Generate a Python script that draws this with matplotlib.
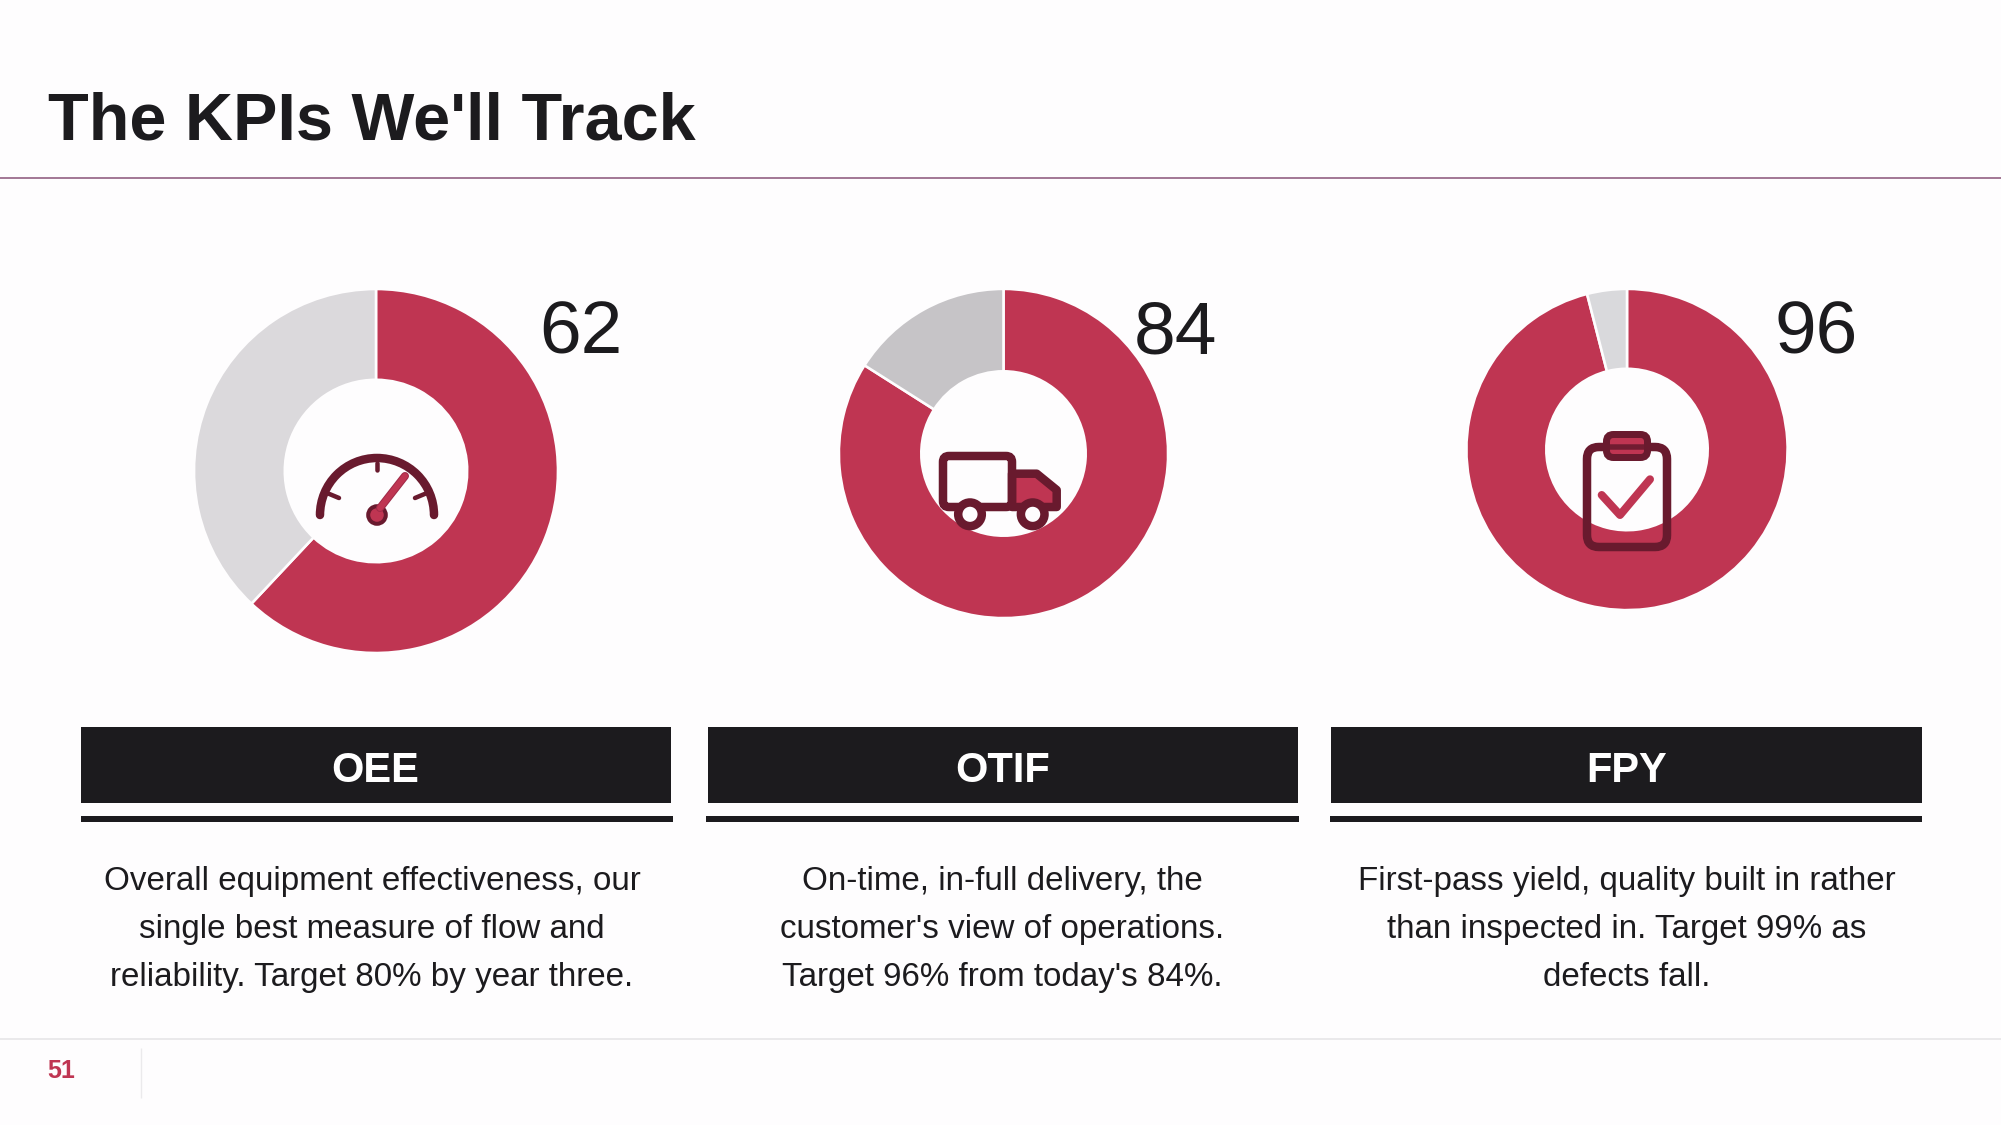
import matplotlib
matplotlib.use("Agg")
import matplotlib.pyplot as plt
import matplotlib.patheffects as pe
from matplotlib.patches import Rectangle, Circle, FancyBboxPatch, Polygon, Arc

plt.rcParams['font.family'] = ['Liberation Sans', 'DejaVu Sans']

title = "The KPIs We'll Track"
page_number = "51"
kpi_names = ["OEE", "OTIF", "FPY"]
kpi_values = [62, 84, 96]
kpi_notes = [
    ["Overall equipment effectiveness, our", "single best measure of flow and", "reliability. Target 80% by year three."],
    ["On-time, in-full delivery, the", "customer's view of operations.", "Target 96% from today's 84%."],
    ["First-pass yield, quality built in rather", "than inspected in. Target 99% as", "defects fall."],
]
rest_colours = ["#DBD9DC", "#C6C4C7", "#D9D9DC"]

RED = "#BF3552"
DARK = "#691A2E"
INK = "#1C1B1E"
BG = "#FEFDFE"
W, H = 2001, 1125
px = 72 / 100  # points per pixel

fig = plt.figure(figsize=(W / 100, H / 100), dpi=100, facecolor=BG)

# donuts: centre x, centre y, outer radius, inner radius (pixels)
rings = [(376, 471, 182, 91.2), (1003.5, 453.5, 164.6, 82.2), (1627, 449.5, 160.6, 80.7)]
for (cx, cy, R, r), v, rest in zip(rings, kpi_values, rest_colours):
    ax = fig.add_axes([(cx - R) / W, 1 - (cy + R) / H, 2 * R / W, 2 * R / H])
    ax.pie([v, 100 - v], colors=[RED, rest], startangle=90, counterclock=False, radius=1,
           wedgeprops=dict(width=1 - r / R, edgecolor=BG, linewidth=2.6 * px))
    ax.set_xlim(-1, 1)
    ax.set_ylim(-1, 1)
    ax.patch.set_alpha(0)

ov = fig.add_axes([0, 0, 1, 1], zorder=5)
ov.set_xlim(0, W)
ov.set_ylim(H, 0)
ov.axis("off")
ov.patch.set_alpha(0)

# title, rules, footer
ov.text(48, 139, title, fontsize=48, fontweight="bold", color=INK, va="baseline")
ov.plot([0, W], [177.5, 177.5], color="#8E5A7E", lw=1.6 * px, solid_capstyle="butt")
ov.plot([0, W], [1038.5, 1038.5], color="#E6E5E7", lw=1.6 * px, solid_capstyle="butt")
ov.plot([141, 141], [1048, 1098], color="#EBEAEC", lw=1.4 * px, solid_capstyle="butt")
ov.text(47, 1077.5, page_number, fontsize=18, fontweight="bold", color=RED, va="baseline")

# cards
bars = [(80.5, 671), (708, 1298), (1331, 1922)]
lines = [(81, 673), (706, 1299), (1330, 1922)]
centres = [376, 1003, 1627]
note_x = [372, 1002, 1627]
num_x = [581, 1175.5, 1816.5]
for i in range(3):
    x0, x1 = bars[i]
    ov.add_patch(Rectangle((x0, 727), x1 - x0, 76, fc=INK, ec="none"))
    a, b = lines[i]
    ov.add_patch(Rectangle((a, 816), b - a, 6, fc=INK, ec="none"))
    ov.text(centres[i] - 0.5, 781.5, kpi_names[i], fontsize=30, fontweight="bold", color="white",
            ha="center", va="baseline")
    ov.text(num_x[i], 353, str(kpi_values[i]), fontsize=54, color=INK, ha="center", va="baseline")
    for k, line in enumerate(kpi_notes[i]):
        ov.text(note_x[i], 889.8 + k * 48, line, fontsize=23.85,
                color=INK, ha="center", va="baseline")

# gauge icon
s = 8.5 * px
ov.add_patch(Arc((377, 515), 114, 114, theta1=180, theta2=360, color=DARK, lw=s, capstyle="round"))
for p, q in [((377, 463), (377, 470)), ((327, 493), (339, 498)), ((427, 493), (415, 498))]:
    ov.plot([p[0], q[0]], [p[1], q[1]], color=DARK, lw=4.5 * px, solid_capstyle="round")
ov.plot([380, 405], [508, 476], color=RED, lw=6 * px, solid_capstyle="round",
        path_effects=[pe.withStroke(linewidth=8 * px, foreground="#A02A48")])
ov.add_patch(Circle((377, 515), 8.8, fc=RED, ec=DARK, lw=4 * px))

# truck icon
ov.add_patch(Polygon([(1012, 473.7), (1036.7, 473.7), (1056.7, 490), (1056.7, 507), (1012, 507)],
                     closed=True, fc=RED, ec=DARK, lw=s, joinstyle="round"))
ov.add_patch(FancyBboxPatch((947, 460), 61, 43, boxstyle="round,pad=4,rounding_size=6", fc="none",
                            ec=DARK, lw=s))
for wx in (970, 1032.7):
    ov.add_patch(Circle((wx, 514.3), 11.8, fc=BG, ec=DARK, lw=8.5 * px))

# clipboard icon
ov.add_patch(FancyBboxPatch((1599, 459), 56, 76, boxstyle="round,pad=12,rounding_size=12", fc="none",
                            ec=DARK, lw=s))
ov.add_patch(FancyBboxPatch((1612, 440), 30, 12, boxstyle="round,pad=5.5,rounding_size=7", fc=RED,
                            ec=DARK, lw=7 * px))
ov.plot([1607, 1647], [447, 447], color=DARK, lw=5.5 * px, solid_capstyle="butt", alpha=0.9)
ov.plot([1601.7, 1620, 1650], [495, 515, 479.3], color=RED, lw=8 * px, solid_capstyle="round",
        solid_joinstyle="round")

fig.savefig("out.png", dpi=100, facecolor=BG)
